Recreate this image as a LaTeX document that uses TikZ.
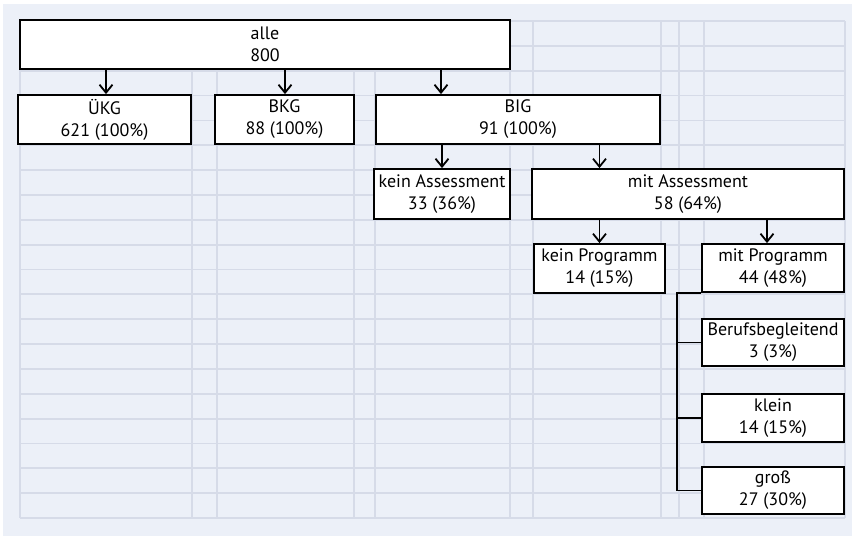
\documentclass[tikz,border=0pt]{standalone}
\usepackage{fontspec}
\setmainfont{PT Sans}
\usetikzlibrary{arrows.meta,calc}
\definecolor{panel}{RGB}{236,240,248}
\definecolor{gridc}{RGB}{214,219,232}
\begin{document}
\begin{tikzpicture}[x=1pt,y=-1pt,
  box/.style={draw=black,fill=white,line width=1.8pt,inner sep=0pt,align=center,
    font=\fontsize{18}{22}\selectfont},
  arr/.style={line width=1.8pt,-{Straight Barb[length=8pt,width=13pt,line width=1.8pt]}},
  tree/.style={line width=1.8pt},
  gridline/.style={gridc,line width=1.8pt}]
\useasboundingbox (0,0) rectangle (852,536);
\fill[white] (0,0) rectangle (852,536);
\fill[panel] (3,4) rectangle (852,536);
% grid
\foreach \k in {0,...,20}{
  \draw[gridline] (20,{21+\k*24.85}) -- (845,{21+\k*24.85});
}
\foreach \xx in {20,192,217,354,375,510,533,661,679,704,845}{
  \draw[gridline] (\xx,21) -- (\xx,518);
}
% nodes
\node[box,minimum width=490,minimum height=49] (alle) at (265,44.5) {alle\\800};
\node[box,minimum width=173,minimum height=49] (ukg) at (104.5,119.5) {ÜKG\\621 (100\%)};
\node[box,minimum width=139,minimum height=49] (bkg) at (284.5,119.5) {BKG\\88 (100\%)};
\node[box,minimum width=284,minimum height=49] (big) at (518,119.5) {BIG\\91 (100\%)};
\node[box,minimum width=136,minimum height=50] (keinA) at (442,194) {kein Assessment\\33 (36\%)};
\node[box,minimum width=312,minimum height=50] (mitA) at (688,194) {mit Assessment\\58 (64\%)};
\node[box,minimum width=131,minimum height=49] (keinP) at (599.5,268.5) {kein Programm\\14 (15\%)};
\node[box,minimum width=142,minimum height=48] (mitP) at (773,268) {mit Programm\\44 (48\%)};
\node[box,minimum width=142,minimum height=47] (beruf) at (773,342.5) {Berufsbegleitend\\3 (3\%)};
\node[box,minimum width=142,minimum height=48] (klein) at (773,418) {klein\\14 (15\%)};
\node[box,minimum width=142,minimum height=47] (gross) at (773,490.5) {groß\\27 (30\%)};
% arrows
\coordinate (aU) at ($(alle.south)+(-159,0)$);
\coordinate (aB) at ($(alle.south)+(20,0)$);
\coordinate (aI) at ($(alle.south)+(176,0)$);
\draw[arr] (aU) -- (aU |- ukg.north);
\draw[arr] (aB) -- (aB |- bkg.north);
\draw[arr] (aI) -- (aI |- big.north);
\draw[arr] (big.south -| keinA.north) -- (keinA.north);
\draw[arr] (big.south -| keinP.north) -- (mitA.north -| keinP.north);
\draw[arr] (mitA.south -| keinP.north) -- (keinP.north);
\coordinate (mP) at ($(mitP.north)+(-6,0)$);
\draw[arr] (mP |- mitA.south) -- (mP);
% tree
\coordinate (trunk) at ($(mitP.south west)+(-24,0)$);
\draw[tree] (mitP.south west) -- (trunk) |- (gross.west);
\draw[tree] (trunk |- beruf.west) -- (beruf.west);
\draw[tree] (trunk |- klein.west) -- (klein.west);
\end{tikzpicture}
\end{document}
